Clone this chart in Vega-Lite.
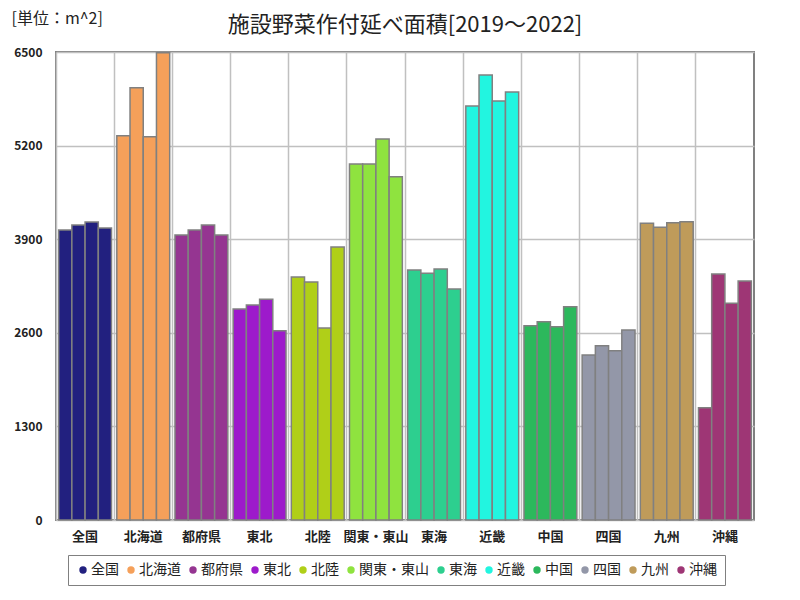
{
  "$schema": "https://vega.github.io/schema/vega-lite/v6.json",
  "width": 698,
  "height": 468,
  "autosize": {"type": "none"},
  "padding": {"left": 56, "top": 52, "right": 46, "bottom": 80},
  "background": "white",
  "title": {"text": "施設野菜作付延べ面積[2019～2022]", "font": "Noto Sans CJK JP", "fontSize": 22, "fontWeight": "normal", "color": "#222222", "anchor": "middle", "offset": -27},
  "config": {
    "view": {"stroke": "#808080", "strokeWidth": 2},
    "font": "Noto Sans CJK JP"
  },
  "data": {"values": [
    {"region": "全国", "year": "2019", "value": 4028},
    {"region": "全国", "year": "2020", "value": 4097},
    {"region": "全国", "year": "2021", "value": 4139},
    {"region": "全国", "year": "2022", "value": 4056},
    {"region": "北海道", "year": "2019", "value": 5338},
    {"region": "北海道", "year": "2020", "value": 6004},
    {"region": "北海道", "year": "2021", "value": 5324},
    {"region": "北海道", "year": "2022", "value": 6490},
    {"region": "都府県", "year": "2019", "value": 3958},
    {"region": "都府県", "year": "2020", "value": 4028},
    {"region": "都府県", "year": "2021", "value": 4097},
    {"region": "都府県", "year": "2022", "value": 3958},
    {"region": "東北", "year": "2019", "value": 2931},
    {"region": "東北", "year": "2020", "value": 2986},
    {"region": "東北", "year": "2021", "value": 3065},
    {"region": "東北", "year": "2022", "value": 2629},
    {"region": "北陸", "year": "2019", "value": 3375},
    {"region": "北陸", "year": "2020", "value": 3306},
    {"region": "北陸", "year": "2021", "value": 2667},
    {"region": "北陸", "year": "2022", "value": 3792},
    {"region": "関東・東山", "year": "2019", "value": 4944},
    {"region": "関東・東山", "year": "2020", "value": 4944},
    {"region": "関東・東山", "year": "2021", "value": 5292},
    {"region": "関東・東山", "year": "2022", "value": 4768},
    {"region": "東海", "year": "2019", "value": 3472},
    {"region": "東海", "year": "2020", "value": 3426},
    {"region": "東海", "year": "2021", "value": 3486},
    {"region": "東海", "year": "2022", "value": 3208},
    {"region": "近畿", "year": "2019", "value": 5750},
    {"region": "近畿", "year": "2020", "value": 6181},
    {"region": "近畿", "year": "2021", "value": 5819},
    {"region": "近畿", "year": "2022", "value": 5944},
    {"region": "中国", "year": "2019", "value": 2699},
    {"region": "中国", "year": "2020", "value": 2754},
    {"region": "中国", "year": "2021", "value": 2685},
    {"region": "中国", "year": "2022", "value": 2963},
    {"region": "四国", "year": "2019", "value": 2292},
    {"region": "四国", "year": "2020", "value": 2421},
    {"region": "四国", "year": "2021", "value": 2352},
    {"region": "四国", "year": "2022", "value": 2639},
    {"region": "九州", "year": "2019", "value": 4121},
    {"region": "九州", "year": "2020", "value": 4065},
    {"region": "九州", "year": "2021", "value": 4130},
    {"region": "九州", "year": "2022", "value": 4143},
    {"region": "沖縄", "year": "2019", "value": 1560},
    {"region": "沖縄", "year": "2020", "value": 3417},
    {"region": "沖縄", "year": "2021", "value": 3009},
    {"region": "沖縄", "year": "2022", "value": 3319}
  ]},
  "mark": {"type": "bar", "stroke": "#808080", "strokeWidth": 1.5, "opacity": 1},
  "encoding": {
    "x": {
      "field": "region", "type": "nominal", "sort": null,
      "scale": {"paddingInner": 0, "paddingOuter": 0},
      "axis": {"title": null, "labelAngle": 0, "labelFontSize": 13, "labelFontWeight": "bold", "labelColor": "#222222", "labelPadding": 10, "ticks": false, "domain": false, "grid": true, "gridColor": "#c0c0c0", "gridWidth": 1.5, "bandPosition": 0}
    },
    "xOffset": {"field": "year", "type": "nominal", "scale": {"paddingInner": 0, "paddingOuter": 0.2}},
    "y": {
      "field": "value", "type": "quantitative",
      "scale": {"domain": [0, 6500], "nice": false},
      "axis": {"values": [0, 1300, 2600, 3900, 5200, 6500], "format": "d", "title": "[単位：m^2]", "titleAngle": 0, "titleX": -45, "titleY": -34, "titleAlign": "left", "titleBaseline": "middle", "titleFontSize": 16, "titleFontWeight": "normal", "titleColor": "#222222", "labelFontSize": 12, "labelFontWeight": "bold", "labelColor": "#222222", "labelPadding": 14, "ticks": false, "domain": false, "grid": true, "gridColor": "#c0c0c0", "gridWidth": 1.5}
    },
    "color": {
      "field": "region", "type": "nominal",
      "scale": {
        "domain": ["全国", "北海道", "都府県", "東北", "北陸", "関東・東山", "東海", "近畿", "中国", "四国", "九州", "沖縄"],
        "range": ["#22207f", "#f5a05a", "#953591", "#9d1acb", "#b0cf18", "#8fe33f", "#2dcf8f", "#22f5e0", "#2cb85c", "#9397a8", "#bf9b5a", "#9e3675"]
      },
      "legend": {"title": null, "orient": "none", "legendX": 12, "legendY": 503, "direction": "horizontal", "columns": 12, "symbolType": "circle", "symbolSize": 55, "symbolStrokeWidth": 0, "symbolOpacity": 1, "labelFontSize": 14, "labelColor": "#222222", "labelOffset": 1, "columnPadding": 5, "padding": 8, "strokeColor": "#808080", "fillColor": "white",
        "encode": {"legend": {"update": {"strokeWidth": {"value": 2}}}}}
    }
  }
}
